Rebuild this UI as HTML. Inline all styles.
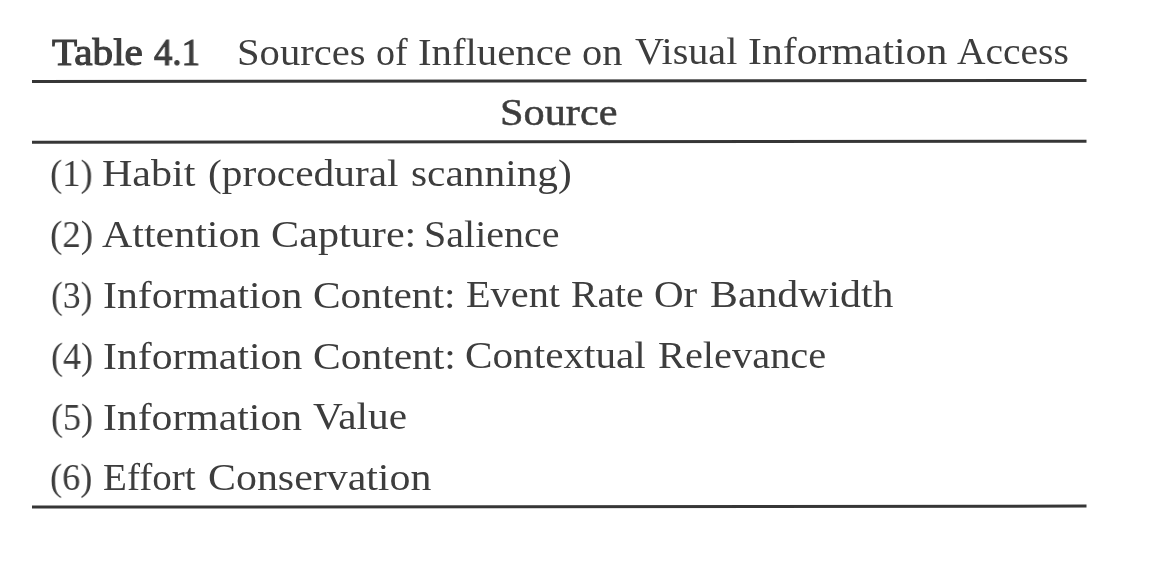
<!DOCTYPE html>
<html><head><meta charset="utf-8">
<style>
html,body{margin:0;padding:0;background:#fff;}
body{width:1153px;height:570px;position:relative;overflow:hidden;font-family:"Liberation Serif",serif;color:#3d3d3d;}
.w{position:absolute;white-space:nowrap;line-height:1;transform-origin:0 0;will-change:transform;font-size:38px;}
</style></head><body>
<svg width="1153" height="570" style="position:absolute;left:0;top:0"><line x1="32.00" y1="81.50" x2="1086.50" y2="80.50" stroke="#363636" stroke-width="3.00"/><line x1="32.00" y1="142.30" x2="1086.50" y2="141.30" stroke="#363636" stroke-width="3.00"/><line x1="32.00" y1="507.10" x2="1086.50" y2="506.10" stroke="#363636" stroke-width="3.00"/></svg>
<span class="w" style="left:51.65px;top:33px;transform:scaleX(1.0834);-webkit-text-stroke:1.1px #3d3d3d">Table</span>
<span class="w" style="left:153.95px;top:33px;transform:scaleX(0.9670);-webkit-text-stroke:1.1px #3d3d3d">4.1</span>
<span class="w" style="left:236.56px;top:33px;transform:scaleX(1.0687)">Sources</span>
<span class="w" style="left:375.80px;top:33px;transform:scaleX(0.9968)">of</span>
<span class="w" style="left:417.93px;top:33px;transform:scaleX(1.0728)">Influence</span>
<span class="w" style="left:581.94px;top:33px;transform:scaleX(1.0649)">on</span>
<span class="w" style="left:634.50px;top:32px;transform:scaleX(1.0553)">Visual</span>
<span class="w" style="left:747.50px;top:32px;transform:scaleX(1.0980)">Information</span>
<span class="w" style="left:957.20px;top:32px;transform:scaleX(1.0390)">Access</span>
<span class="w" style="left:499.52px;top:93px;transform:scaleX(1.1134);-webkit-text-stroke:0.5px #3d3d3d">Source</span>
<span class="w" style="left:50.04px;top:154px;transform:scaleX(0.9603)">(1)</span>
<span class="w" style="left:102.19px;top:154px;transform:scaleX(1.1065)">Habit</span>
<span class="w" style="left:207.81px;top:154px;transform:scaleX(1.0878)">(procedural</span>
<span class="w" style="left:411.01px;top:154px;transform:scaleX(1.0884)">scanning)</span>
<span class="w" style="left:50.13px;top:215px;transform:scaleX(0.9699)">(2)</span>
<span class="w" style="left:102.20px;top:215px;transform:scaleX(1.1035)">Attention</span>
<span class="w" style="left:270.69px;top:215px;transform:scaleX(1.1108)">Capture:</span>
<span class="w" style="left:423.59px;top:215px;transform:scaleX(1.0529)">Salience</span>
<span class="w" style="left:50.67px;top:276px;transform:scaleX(0.9315)">(3)</span>
<span class="w" style="left:102.90px;top:276px;transform:scaleX(1.0980)">Information</span>
<span class="w" style="left:313.31px;top:276px;transform:scaleX(1.0885)">Content:</span>
<span class="w" style="left:465.74px;top:275px;transform:scaleX(1.0604)">Event</span>
<span class="w" style="left:571.26px;top:275px;transform:scaleX(1.0432)">Rate</span>
<span class="w" style="left:653.52px;top:275px;transform:scaleX(1.0775)">Or</span>
<span class="w" style="left:709.90px;top:275px;transform:scaleX(1.1003)">Bandwidth</span>
<span class="w" style="left:50.65px;top:337px;transform:scaleX(0.9459)">(4)</span>
<span class="w" style="left:102.90px;top:337px;transform:scaleX(1.0980)">Information</span>
<span class="w" style="left:313.31px;top:337px;transform:scaleX(1.0917)">Content:</span>
<span class="w" style="left:465.42px;top:336px;transform:scaleX(1.0842)">Contextual</span>
<span class="w" style="left:657.94px;top:336px;transform:scaleX(1.0629)">Relevance</span>
<span class="w" style="left:50.65px;top:398px;transform:scaleX(0.9459)">(5)</span>
<span class="w" style="left:102.90px;top:398px;transform:scaleX(1.0969)">Information</span>
<span class="w" style="left:313.20px;top:397px;transform:scaleX(1.0858)">Value</span>
<span class="w" style="left:50.35px;top:458px;transform:scaleX(0.9531)">(6)</span>
<span class="w" style="left:103.27px;top:458px;transform:scaleX(1.0292)">Effort</span>
<span class="w" style="left:207.50px;top:458px;transform:scaleX(1.1025)">Conservation</span>
</body></html>
